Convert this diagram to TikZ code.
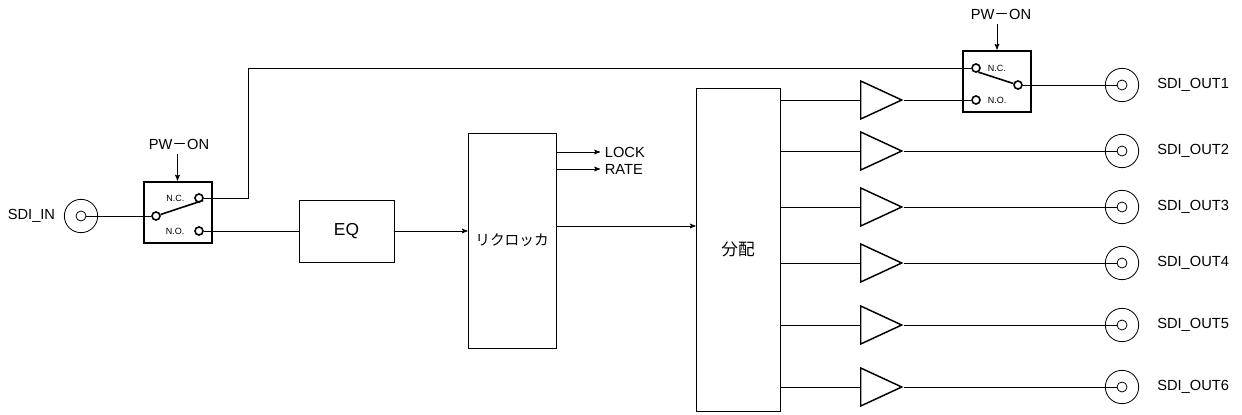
\documentclass[tikz,border=0pt]{standalone}
\usepackage{fontspec}
\setmainfont{Liberation Sans}
\newfontfamily\jp{Noto Sans CJK JP}
\usepackage{tikz}
\usetikzlibrary{shapes,arrows,positioning}

\begin{document}
\begin{tikzpicture}[x=0.75pt,y=-0.75pt,>=stealth',line width=0.6pt,
  nodes={font=\fontsize{11}{13}\selectfont},
  box/.style={draw,rectangle,inner sep=0pt},
  sw/.style={draw,rectangle,line width=1.5pt,minimum width=51pt,minimum height=45.75pt},
  cnt/.style={circle,draw,fill=white,line width=1.2pt,minimum size=6pt,inner sep=0pt},
  jack/.style={circle,draw,minimum size=25pt,inner sep=0pt},
  pin/.style={circle,draw,minimum size=7.5pt,inner sep=0pt},
  amp/.style={isosceles triangle,draw,line width=1.1pt,isosceles triangle stretches,
    minimum width=28.5pt,minimum height=30.75pt,inner sep=0pt,anchor=lower side},
  tiny/.style={font=\fontsize{6.75}{8}\selectfont,inner sep=1pt}]
 \useasboundingbox (0,0) rectangle (1242,414);

 % input jack and switch
 \node[jack] (jin) at (81,216) {};
 \node[pin] (in) at (jin) {};
 \node[left=3pt of jin] (inlbl) {SDI\_IN};
 \node[sw] (sw1) at (177.5,212) {};
 \node (pw1) at (179,144) {PW{\jp －}ON};
 \node[cnt] (nc1) at (199,198) {};
 \node[cnt] (no1) at (199,231) {};
 \node[cnt] (pv1) at (156,216) {};
 \node[tiny,left=6pt of nc1] (nc1lbl) {N.C.};
 \node[tiny,left=6pt of no1] (no1lbl) {N.O.};

 % blocks
 \node[box,minimum width=71.25pt,minimum height=46.5pt,font=\fontsize{13}{15}\selectfont] (eq) at (346.5,231) {EQ};
 \node[box,minimum width=66pt,minimum height=161.25pt] (rc) at (512,240.5) {\jp リクロッカ};
 \node[box,minimum width=63pt,minimum height=242.25pt,font=\fontsize{12.5}{15}\selectfont] (dist) at (738,249.5) {\jp 分配};
 \node[right] (lock) at (600,152) {LOCK};
 \node[right] (rate) at (600,169) {RATE};

 % output switch
 \node[sw] (sw2) at (997,81) {};
 \node (pw2) at (1001,14) {PW{\jp －}ON};
 \node[cnt] (nc2) at (976,68) {};
 \node[cnt] (no2) at (976,100) {};
 \node[cnt] (pv2) at (1018,85) {};
 \node[tiny,right=4pt of nc2] (nc2lbl) {N.C.};
 \node[tiny,right=4pt of no2] (no2lbl) {N.O.};
 \coordinate (bend) at (248,68);

 \foreach \i/\y in {1/100,2/151,3/207,4/263,5/325,6/387}{
  \node[amp] (a\i) at (860,\y) {};
  \draw (dist.east |- a\i.lower side) -- (a\i.lower side);
 }
 \foreach \i/\y in {1/85,2/151,3/207,4/263,5/325,6/387}{
  \node[jack] (o\i) at (1122,\y) {};
  \node[pin] (oi\i) at (o\i) {};
  \node[right=10pt of o\i] (olbl\i) {SDI\_OUT\i};
 }

 \draw[->] (pw1.south -| sw1.north) -- (sw1.north);
 \draw[->] (pw2.south -| sw2.north) -- (sw2.north);
 \draw[->] (eq) -- (eq -| rc.west);
 \draw[->] (lock.west -| rc.east) -- (lock.west);
 \draw[->] (rate.west -| rc.east) -- (rate.west);
 \draw[->] (rc.east |- 0,226) -- (dist.west |- 0,226);
 \draw (nc1) -| (bend) -- (nc2);

 \path
  (in) edge (pv1)
  (pv1) edge[line width=1.2pt] (nc1.-30)
  (no1) edge (eq)
  (nc2.-60) edge[line width=1.2pt] (pv2)
  (pv2) edge (oi1)
  (a1.apex) edge (no2)
  ;
 \foreach \i in {2,...,6} \draw (a\i.apex) -- (oi\i);
\end{tikzpicture}
\end{document}
